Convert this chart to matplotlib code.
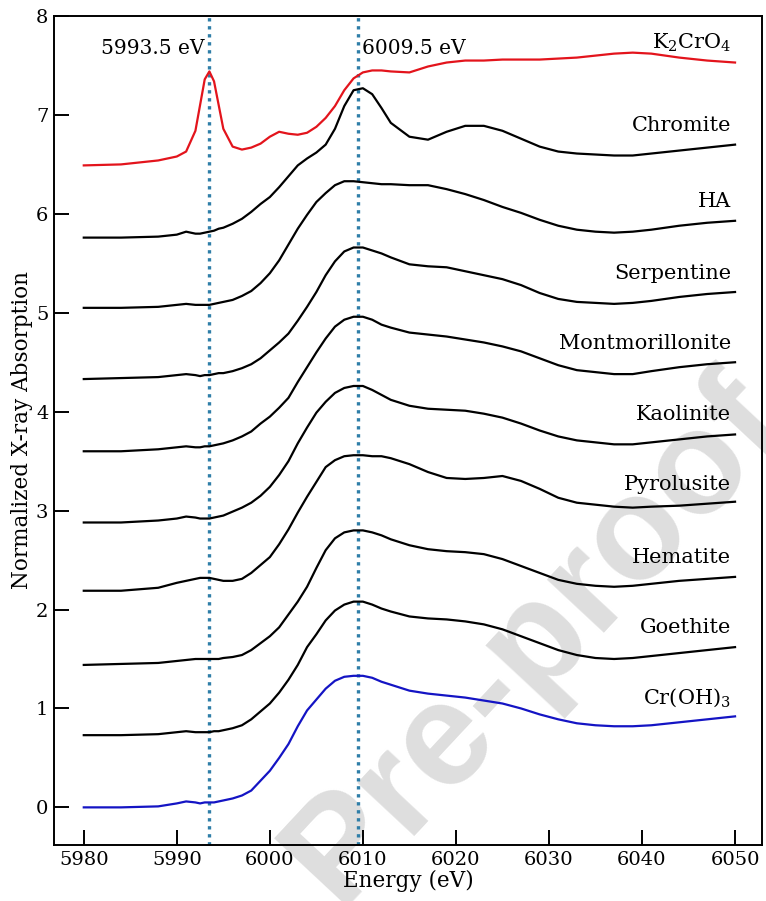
import matplotlib
matplotlib.use("Agg")
import matplotlib.pyplot as plt

plt.rcParams['font.family'] = ['DejaVu Serif']
plt.rcParams['mathtext.fontset'] = 'dejavuserif'

# energie commune (eV)
energy = [5980, 5984, 5988, 5990, 5991, 5992, 5992.5, 5993, 5993.5, 5994, 5994.5,
          5995, 5996, 5997, 5998, 5999, 6000, 6001, 6002, 6003, 6004, 6005, 6006,
          6007, 6008, 6009, 6010, 6011, 6012, 6013, 6015, 6017, 6019, 6021, 6023,
          6025, 6027, 6029, 6031, 6033, 6035, 6037, 6039, 6041, 6044, 6047, 6050]

k2cro4 = [6.49, 6.50, 6.54, 6.58, 6.63, 6.84, 7.10, 7.36, 7.44, 7.34, 7.10,
          6.86, 6.68, 6.65, 6.67, 6.71, 6.78, 6.83, 6.81, 6.80, 6.82, 6.88, 6.97,
          7.09, 7.25, 7.37, 7.43, 7.45, 7.45, 7.44, 7.43, 7.49, 7.53, 7.55, 7.55,
          7.56, 7.56, 7.56, 7.57, 7.58, 7.60, 7.62, 7.63, 7.62, 7.58, 7.55, 7.53]

chromite = [5.76, 5.76, 5.77, 5.79, 5.82, 5.80, 5.80, 5.81, 5.82, 5.83, 5.85,
            5.86, 5.90, 5.95, 6.02, 6.10, 6.17, 6.27, 6.38, 6.49, 6.56, 6.62, 6.70,
            6.86, 7.09, 7.25, 7.27, 7.21, 7.07, 6.92, 6.78, 6.75, 6.83, 6.89, 6.89,
            6.84, 6.76, 6.68, 6.63, 6.61, 6.60, 6.59, 6.59, 6.61, 6.64, 6.67, 6.70]

ha = [5.05, 5.05, 5.06, 5.08, 5.09, 5.08, 5.08, 5.08, 5.08, 5.09, 5.10,
      5.11, 5.13, 5.17, 5.22, 5.30, 5.40, 5.53, 5.69, 5.85, 5.99, 6.12, 6.21,
      6.29, 6.33, 6.33, 6.32, 6.31, 6.30, 6.30, 6.29, 6.29, 6.25, 6.20, 6.14,
      6.07, 6.01, 5.94, 5.88, 5.84, 5.82, 5.81, 5.82, 5.84, 5.88, 5.91, 5.93]

serpentine = [4.33, 4.34, 4.35, 4.37, 4.38, 4.37, 4.36, 4.37, 4.37, 4.38, 4.39,
              4.39, 4.41, 4.44, 4.48, 4.54, 4.62, 4.70, 4.79, 4.92, 5.06, 5.21, 5.38,
              5.52, 5.62, 5.66, 5.66, 5.63, 5.60, 5.56, 5.49, 5.47, 5.46, 5.42, 5.38,
              5.34, 5.28, 5.20, 5.14, 5.11, 5.10, 5.09, 5.10, 5.12, 5.16, 5.19, 5.21]

montmorillonite = [3.60, 3.60, 3.62, 3.64, 3.65, 3.64, 3.64, 3.65, 3.65, 3.66, 3.67,
                   3.68, 3.71, 3.75, 3.80, 3.88, 3.95, 4.04, 4.14, 4.30, 4.45, 4.60, 4.74,
                   4.86, 4.93, 4.96, 4.96, 4.93, 4.88, 4.85, 4.80, 4.78, 4.76, 4.73, 4.70,
                   4.66, 4.61, 4.54, 4.47, 4.42, 4.40, 4.38, 4.38, 4.41, 4.45, 4.48, 4.50]

kaolinite = [2.88, 2.88, 2.90, 2.92, 2.94, 2.93, 2.92, 2.92, 2.92, 2.93, 2.94,
             2.95, 2.99, 3.03, 3.08, 3.15, 3.24, 3.36, 3.50, 3.68, 3.84, 3.99, 4.10,
             4.19, 4.24, 4.26, 4.26, 4.22, 4.17, 4.12, 4.06, 4.03, 4.02, 4.01, 3.98,
             3.94, 3.88, 3.81, 3.75, 3.71, 3.69, 3.67, 3.67, 3.69, 3.72, 3.75, 3.77]

pyrolusite = [2.19, 2.19, 2.22, 2.27, 2.29, 2.31, 2.32, 2.32, 2.32, 2.31, 2.30,
              2.29, 2.29, 2.31, 2.37, 2.45, 2.53, 2.66, 2.81, 2.98, 3.14, 3.29, 3.44,
              3.51, 3.55, 3.56, 3.56, 3.55, 3.55, 3.53, 3.47, 3.39, 3.33, 3.32, 3.33,
              3.35, 3.30, 3.22, 3.13, 3.08, 3.06, 3.04, 3.03, 3.04, 3.05, 3.07, 3.09]

hematite = [1.44, 1.45, 1.46, 1.48, 1.49, 1.50, 1.50, 1.50, 1.50, 1.50, 1.50,
            1.51, 1.52, 1.54, 1.59, 1.66, 1.73, 1.82, 1.95, 2.08, 2.23, 2.42, 2.60,
            2.72, 2.78, 2.80, 2.80, 2.78, 2.75, 2.71, 2.65, 2.61, 2.59, 2.58, 2.56,
            2.51, 2.44, 2.37, 2.30, 2.26, 2.24, 2.23, 2.24, 2.26, 2.29, 2.31, 2.33]

goethite = [0.73, 0.73, 0.74, 0.76, 0.77, 0.76, 0.76, 0.76, 0.76, 0.77, 0.77,
            0.78, 0.80, 0.83, 0.89, 0.97, 1.05, 1.16, 1.29, 1.44, 1.62, 1.75, 1.89,
            1.99, 2.05, 2.08, 2.08, 2.05, 2.01, 1.98, 1.93, 1.91, 1.90, 1.88, 1.85,
            1.80, 1.73, 1.66, 1.59, 1.54, 1.51, 1.50, 1.51, 1.53, 1.56, 1.59, 1.62]

croh3 = [0.00, 0.00, 0.01, 0.04, 0.06, 0.05, 0.04, 0.05, 0.05, 0.05, 0.06,
         0.07, 0.09, 0.12, 0.17, 0.27, 0.37, 0.50, 0.64, 0.82, 0.98, 1.09, 1.20,
         1.28, 1.32, 1.33, 1.33, 1.31, 1.27, 1.24, 1.18, 1.15, 1.13, 1.11, 1.08,
         1.05, 1.00, 0.94, 0.89, 0.85, 0.83, 0.82, 0.82, 0.83, 0.86, 0.89, 0.92]

spectres = [k2cro4, chromite, ha, serpentine, montmorillonite, kaolinite,
            pyrolusite, hematite, goethite, croh3]
noms = ['K$_2$CrO$_4$', 'Chromite', 'HA', 'Serpentine', 'Montmorillonite',
        'Kaolinite', 'Pyrolusite', 'Hematite', 'Goethite', 'Cr(OH)$_3$']
y_noms = [7.73, 6.89, 6.13, 5.40, 4.69, 3.97, 3.26, 2.53, 1.82, 1.11]
couleurs = ['#e3141c'] + ['black'] * 8 + ['#1414c4']

raies = [5993.5, 6009.5]
raies_txt = ['5993.5 eV', '6009.5 eV']

fig = plt.figure(figsize=(7.66, 9.01), dpi=100)
ax = fig.add_axes([0.0705, 0.0622, 0.9243, 0.92])
ax.set_facecolor('none')
ax.set_zorder(1)

# filigrane (sous les courbes)
fig.text(0.70, 0.29, 'Pre-proof', family='Liberation Sans', weight='bold',
         fontsize=106, color='#dedede', rotation=47, ha='center', va='center',
         zorder=0)

for spec, c in zip(spectres, couleurs):
    ax.plot(energy, spec, color=c, lw=1.6, zorder=3)

for e in raies:
    ax.axvline(e, color='#2f7ea8', lw=2.4, ls=(0, (1, 1.4)), zorder=2)

ax.text(raies[0] - 0.5, 7.67, raies_txt[0], ha='right', va='center', fontsize=14.5)
ax.text(raies[1] + 0.4, 7.67, raies_txt[1], ha='left', va='center', fontsize=14.5)

for nom, yn in zip(noms, y_noms):
    ax.text(6049.6, yn, nom, ha='right', va='center', fontsize=15)

ax.set_xlim(5976.8, 6052.9)
ax.set_ylim(-0.38, 8.0)
ax.set_xticks(range(5980, 6051, 10))
ax.set_yticks(range(0, 9))
ax.tick_params(direction='in', length=10.5, width=1.4, labelsize=14, pad=4)
for s in ax.spines.values():
    s.set_linewidth(1.4)

ax.set_xlabel('Energy (eV)', fontsize=15.5, labelpad=1)
ax.set_ylabel('Normalized X-ray Absorption', fontsize=15.5, labelpad=2)

fig.savefig('out.png', dpi=100)
